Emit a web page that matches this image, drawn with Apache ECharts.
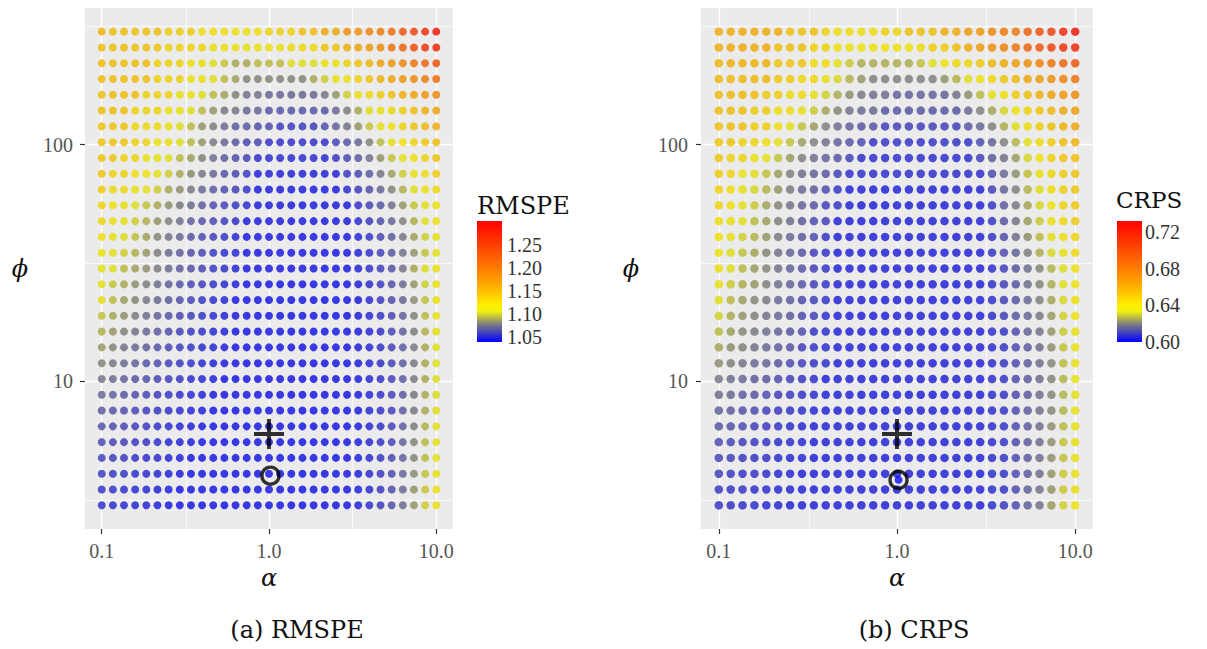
<!DOCTYPE html>
<html>
<head>
<meta charset="utf-8">
<title>RMSPE / CRPS grid</title>
<script src="https://cdn.jsdelivr.net/npm/echarts@6/dist/echarts.min.js"></script>
<style>
  html, body { margin: 0; padding: 0; background: #fff; }
  #chart { width: 1207px; height: 649px; }
</style>
</head>
<body>
<div id="chart"></div>
<script>
// tuning grid, 31 x 31, log spaced
const alpha = [0.1, 0.1166, 0.1359, 0.1585, 0.1848, 0.2154, 0.2512, 0.2929, 0.3415, 0.3981, 0.4642, 0.5412, 0.631, 0.7356, 0.8577, 1,
  1.166, 1.359, 1.585, 1.848, 2.154, 2.512, 2.929, 3.415, 3.981, 4.642, 5.412, 6.31, 7.356, 8.577, 10];
// rows from top (phi = 300) to bottom (phi = 3)
const phi = [300, 257.3, 220.7, 189.3, 162.4, 139.3, 119.4, 102.4, 87.86, 75.36, 64.63, 55.44, 47.55, 40.78, 34.98, 30,
  25.73, 22.07, 18.93, 16.24, 13.93, 11.94, 10.24, 8.786, 7.536, 6.463, 5.544, 4.755, 4.078, 3.498, 3];

// one row per phi value, one entry per alpha value
const rmspe = [
  [1.15,1.145,1.145,1.145,1.145,1.145,1.135,1.135,1.135,1.12,1.12,1.12,1.12,1.12,1.12,1.13,1.13,1.13,1.145,1.145,1.16,1.16,1.18,1.18,1.19,1.2,1.215,1.235,1.25,1.27,1.29],
  [1.145,1.145,1.145,1.145,1.145,1.14,1.13,1.13,1.13,1.13,1.115,1.115,1.115,1.115,1.115,1.115,1.115,1.125,1.125,1.125,1.14,1.14,1.155,1.165,1.17,1.185,1.205,1.225,1.245,1.265,1.28],
  [1.145,1.145,1.145,1.145,1.145,1.13,1.13,1.13,1.115,1.115,1.105,1.098,1.09,1.09,1.095,1.095,1.095,1.105,1.105,1.105,1.115,1.115,1.13,1.14,1.15,1.165,1.175,1.19,1.205,1.22,1.24],
  [1.145,1.145,1.145,1.145,1.145,1.13,1.13,1.13,1.115,1.115,1.105,1.095,1.088,1.08,1.08,1.08,1.08,1.08,1.08,1.09,1.1,1.115,1.115,1.13,1.14,1.155,1.165,1.175,1.19,1.2,1.215],
  [1.145,1.145,1.145,1.145,1.13,1.13,1.13,1.115,1.115,1.105,1.095,1.088,1.08,1.074,1.074,1.07,1.07,1.07,1.07,1.07,1.076,1.085,1.1,1.115,1.125,1.135,1.145,1.155,1.165,1.175,1.19],
  [1.145,1.145,1.145,1.13,1.13,1.13,1.115,1.115,1.105,1.095,1.085,1.076,1.076,1.07,1.07,1.064,1.064,1.064,1.064,1.064,1.064,1.07,1.078,1.09,1.105,1.115,1.125,1.135,1.145,1.155,1.165],
  [1.14,1.14,1.14,1.125,1.125,1.125,1.115,1.105,1.095,1.085,1.078,1.072,1.066,1.066,1.062,1.062,1.056,1.056,1.056,1.056,1.062,1.068,1.075,1.085,1.098,1.11,1.12,1.13,1.14,1.15,1.155],
  [1.14,1.14,1.14,1.13,1.13,1.115,1.115,1.105,1.095,1.085,1.077,1.07,1.065,1.06,1.06,1.052,1.052,1.052,1.052,1.052,1.052,1.058,1.064,1.07,1.08,1.095,1.108,1.118,1.128,1.138,1.145],
  [1.14,1.14,1.13,1.13,1.115,1.115,1.105,1.095,1.087,1.08,1.073,1.067,1.062,1.058,1.05,1.05,1.05,1.05,1.05,1.05,1.05,1.054,1.06,1.066,1.074,1.085,1.098,1.11,1.12,1.13,1.14],
  [1.14,1.13,1.13,1.118,1.118,1.108,1.1,1.09,1.082,1.076,1.07,1.064,1.06,1.055,1.047,1.047,1.047,1.047,1.047,1.047,1.047,1.047,1.055,1.06,1.066,1.075,1.087,1.1,1.112,1.122,1.132],
  [1.135,1.125,1.125,1.115,1.108,1.1,1.09,1.083,1.077,1.071,1.066,1.061,1.057,1.052,1.045,1.045,1.045,1.045,1.045,1.045,1.045,1.045,1.05,1.056,1.062,1.07,1.08,1.092,1.105,1.115,1.125],
  [1.13,1.12,1.115,1.105,1.097,1.09,1.083,1.077,1.072,1.067,1.062,1.058,1.054,1.05,1.045,1.045,1.045,1.045,1.045,1.045,1.045,1.045,1.045,1.052,1.058,1.065,1.073,1.085,1.098,1.11,1.12],
  [1.125,1.115,1.108,1.1,1.092,1.085,1.079,1.073,1.068,1.064,1.06,1.055,1.051,1.045,1.045,1.045,1.045,1.045,1.045,1.045,1.045,1.045,1.045,1.05,1.055,1.062,1.07,1.08,1.092,1.105,1.115],
  [1.12,1.112,1.104,1.096,1.088,1.081,1.075,1.07,1.065,1.061,1.057,1.053,1.049,1.044,1.044,1.044,1.044,1.044,1.044,1.044,1.044,1.044,1.044,1.048,1.053,1.06,1.067,1.076,1.088,1.1,1.112],
  [1.117,1.108,1.1,1.092,1.085,1.078,1.072,1.067,1.063,1.059,1.055,1.051,1.048,1.044,1.044,1.044,1.044,1.044,1.044,1.044,1.044,1.044,1.044,1.047,1.052,1.058,1.065,1.074,1.085,1.097,1.11],
  [1.112,1.105,1.095,1.088,1.083,1.077,1.072,1.067,1.063,1.059,1.055,1.052,1.048,1.044,1.044,1.044,1.044,1.044,1.044,1.044,1.044,1.044,1.044,1.047,1.052,1.057,1.064,1.075,1.09,1.105,1.115],
  [1.108,1.098,1.09,1.083,1.078,1.073,1.068,1.064,1.06,1.056,1.052,1.049,1.046,1.043,1.043,1.043,1.043,1.043,1.043,1.043,1.043,1.043,1.043,1.046,1.05,1.056,1.063,1.072,1.085,1.1,1.115],
  [1.105,1.095,1.087,1.081,1.076,1.071,1.066,1.062,1.058,1.054,1.051,1.048,1.045,1.043,1.043,1.043,1.043,1.043,1.043,1.043,1.043,1.043,1.043,1.045,1.049,1.055,1.062,1.07,1.082,1.097,1.113],
  [1.097,1.09,1.083,1.078,1.073,1.068,1.064,1.06,1.056,1.053,1.05,1.047,1.045,1.043,1.043,1.043,1.043,1.043,1.043,1.043,1.043,1.043,1.043,1.045,1.048,1.053,1.06,1.068,1.08,1.095,1.11],
  [1.092,1.085,1.079,1.074,1.07,1.066,1.062,1.058,1.055,1.052,1.049,1.046,1.043,1.043,1.043,1.043,1.043,1.043,1.043,1.043,1.043,1.043,1.043,1.045,1.048,1.052,1.059,1.067,1.078,1.092,1.108],
  [1.086,1.08,1.075,1.071,1.067,1.063,1.06,1.056,1.053,1.05,1.048,1.046,1.043,1.043,1.043,1.043,1.043,1.043,1.043,1.043,1.043,1.043,1.043,1.045,1.048,1.052,1.058,1.066,1.077,1.09,1.105],
  [1.08,1.076,1.072,1.068,1.064,1.061,1.058,1.055,1.052,1.049,1.047,1.045,1.043,1.043,1.043,1.043,1.043,1.043,1.043,1.043,1.043,1.043,1.043,1.045,1.048,1.052,1.058,1.066,1.077,1.09,1.105],
  [1.076,1.072,1.068,1.065,1.062,1.059,1.056,1.053,1.05,1.048,1.046,1.043,1.043,1.043,1.043,1.043,1.043,1.043,1.043,1.043,1.043,1.043,1.043,1.045,1.048,1.052,1.058,1.066,1.077,1.09,1.104],
  [1.071,1.068,1.065,1.062,1.059,1.056,1.054,1.051,1.049,1.047,1.045,1.043,1.043,1.043,1.043,1.043,1.043,1.043,1.043,1.043,1.043,1.043,1.043,1.045,1.048,1.052,1.058,1.066,1.076,1.09,1.104],
  [1.067,1.064,1.061,1.059,1.056,1.054,1.052,1.05,1.048,1.046,1.043,1.043,1.043,1.043,1.043,1.043,1.043,1.043,1.043,1.043,1.043,1.043,1.043,1.045,1.048,1.052,1.058,1.066,1.076,1.09,1.105],
  [1.064,1.061,1.059,1.057,1.054,1.052,1.05,1.048,1.046,1.045,1.043,1.043,1.043,1.043,1.043,1.043,1.043,1.043,1.043,1.043,1.043,1.043,1.043,1.045,1.048,1.052,1.058,1.067,1.078,1.092,1.107],
  [1.061,1.059,1.057,1.055,1.053,1.051,1.049,1.047,1.046,1.043,1.043,1.043,1.043,1.043,1.043,1.043,1.043,1.043,1.043,1.043,1.043,1.043,1.043,1.046,1.049,1.053,1.059,1.068,1.08,1.094,1.108],
  [1.058,1.056,1.055,1.053,1.051,1.05,1.048,1.046,1.043,1.043,1.043,1.043,1.043,1.043,1.043,1.043,1.043,1.043,1.043,1.043,1.043,1.043,1.043,1.046,1.05,1.054,1.06,1.069,1.081,1.095,1.11],
  [1.056,1.054,1.053,1.051,1.05,1.048,1.047,1.045,1.043,1.043,1.043,1.043,1.043,1.043,1.043,1.043,1.043,1.043,1.043,1.043,1.043,1.043,1.043,1.046,1.05,1.055,1.061,1.07,1.082,1.097,1.112],
  [1.054,1.053,1.051,1.05,1.049,1.047,1.046,1.043,1.043,1.043,1.043,1.043,1.043,1.043,1.043,1.043,1.043,1.043,1.043,1.043,1.043,1.043,1.043,1.046,1.05,1.055,1.062,1.071,1.084,1.098,1.113],
  [1.052,1.051,1.05,1.049,1.048,1.046,1.045,1.043,1.043,1.043,1.043,1.043,1.043,1.043,1.043,1.043,1.043,1.043,1.043,1.043,1.043,1.043,1.043,1.046,1.051,1.056,1.063,1.072,1.085,1.1,1.115]
];

const crps = [
  [0.659,0.659,0.659,0.659,0.659,0.659,0.652,0.652,0.652,0.645,0.641,0.641,0.641,0.641,0.645,0.645,0.652,0.652,0.652,0.659,0.659,0.667,0.667,0.674,0.682,0.682,0.692,0.7,0.707,0.717,0.727],
  [0.659,0.659,0.659,0.659,0.659,0.652,0.652,0.652,0.645,0.645,0.639,0.639,0.639,0.639,0.639,0.639,0.639,0.642,0.647,0.647,0.652,0.659,0.665,0.671,0.677,0.683,0.69,0.697,0.705,0.713,0.72],
  [0.657,0.657,0.657,0.657,0.657,0.65,0.65,0.65,0.642,0.642,0.635,0.63,0.626,0.626,0.626,0.626,0.626,0.629,0.634,0.639,0.643,0.643,0.649,0.655,0.66,0.665,0.671,0.677,0.684,0.691,0.699],
  [0.655,0.655,0.655,0.655,0.655,0.649,0.649,0.643,0.643,0.637,0.632,0.627,0.623,0.62,0.62,0.62,0.62,0.62,0.62,0.623,0.627,0.633,0.639,0.644,0.65,0.655,0.66,0.665,0.671,0.677,0.684],
  [0.654,0.654,0.654,0.654,0.648,0.648,0.642,0.642,0.636,0.631,0.626,0.622,0.619,0.617,0.617,0.615,0.615,0.615,0.615,0.615,0.618,0.622,0.628,0.635,0.641,0.647,0.652,0.657,0.662,0.667,0.673],
  [0.653,0.653,0.653,0.648,0.648,0.642,0.642,0.636,0.63,0.625,0.621,0.618,0.616,0.616,0.613,0.613,0.613,0.613,0.613,0.613,0.613,0.616,0.62,0.625,0.632,0.639,0.645,0.65,0.655,0.66,0.665],
  [0.652,0.652,0.652,0.647,0.647,0.641,0.635,0.629,0.624,0.62,0.617,0.615,0.613,0.613,0.609,0.609,0.609,0.609,0.609,0.609,0.609,0.613,0.616,0.62,0.626,0.634,0.641,0.647,0.652,0.657,0.662],
  [0.651,0.651,0.646,0.646,0.641,0.635,0.629,0.624,0.62,0.617,0.615,0.613,0.611,0.607,0.607,0.607,0.607,0.607,0.607,0.607,0.607,0.607,0.611,0.615,0.62,0.627,0.635,0.642,0.648,0.653,0.657],
  [0.65,0.645,0.645,0.64,0.635,0.629,0.624,0.62,0.617,0.615,0.613,0.609,0.606,0.606,0.606,0.606,0.606,0.606,0.606,0.606,0.606,0.606,0.609,0.614,0.618,0.624,0.632,0.639,0.645,0.65,0.654],
  [0.648,0.644,0.639,0.634,0.629,0.624,0.62,0.617,0.615,0.613,0.609,0.606,0.606,0.606,0.606,0.606,0.606,0.606,0.606,0.606,0.606,0.606,0.606,0.611,0.616,0.622,0.629,0.637,0.643,0.648,0.652],
  [0.646,0.642,0.637,0.632,0.627,0.623,0.619,0.616,0.614,0.611,0.607,0.604,0.604,0.604,0.604,0.604,0.604,0.604,0.604,0.604,0.604,0.604,0.604,0.609,0.615,0.62,0.627,0.634,0.641,0.647,0.651],
  [0.644,0.64,0.635,0.63,0.625,0.621,0.618,0.615,0.613,0.609,0.607,0.604,0.604,0.604,0.604,0.604,0.604,0.604,0.604,0.604,0.604,0.604,0.604,0.607,0.614,0.619,0.625,0.632,0.639,0.645,0.65],
  [0.642,0.638,0.633,0.628,0.624,0.62,0.617,0.614,0.611,0.609,0.604,0.604,0.604,0.604,0.604,0.604,0.604,0.604,0.604,0.604,0.604,0.604,0.604,0.607,0.613,0.618,0.624,0.63,0.637,0.643,0.648],
  [0.64,0.636,0.631,0.627,0.623,0.619,0.616,0.614,0.611,0.607,0.604,0.604,0.604,0.604,0.604,0.604,0.604,0.604,0.604,0.604,0.604,0.604,0.604,0.607,0.612,0.617,0.622,0.628,0.635,0.641,0.646],
  [0.639,0.634,0.629,0.625,0.621,0.618,0.615,0.613,0.609,0.607,0.604,0.604,0.604,0.604,0.604,0.604,0.604,0.604,0.604,0.604,0.604,0.604,0.604,0.607,0.611,0.615,0.62,0.626,0.632,0.638,0.643],
  [0.638,0.633,0.628,0.624,0.621,0.618,0.615,0.613,0.609,0.607,0.604,0.604,0.604,0.604,0.604,0.604,0.604,0.604,0.604,0.604,0.604,0.604,0.604,0.606,0.609,0.613,0.617,0.621,0.627,0.634,0.64],
  [0.636,0.63,0.626,0.623,0.62,0.617,0.615,0.613,0.609,0.607,0.604,0.604,0.604,0.604,0.604,0.604,0.604,0.604,0.604,0.604,0.604,0.604,0.604,0.606,0.609,0.613,0.617,0.621,0.626,0.633,0.64],
  [0.634,0.628,0.624,0.621,0.619,0.616,0.614,0.611,0.609,0.607,0.604,0.604,0.604,0.604,0.604,0.604,0.604,0.604,0.604,0.604,0.604,0.604,0.604,0.606,0.609,0.613,0.616,0.62,0.625,0.632,0.64],
  [0.631,0.626,0.623,0.62,0.618,0.616,0.614,0.611,0.609,0.606,0.604,0.604,0.604,0.604,0.604,0.604,0.604,0.604,0.604,0.604,0.604,0.604,0.604,0.606,0.609,0.613,0.616,0.619,0.624,0.631,0.639],
  [0.628,0.624,0.621,0.619,0.617,0.615,0.613,0.611,0.607,0.606,0.604,0.604,0.604,0.604,0.604,0.604,0.604,0.604,0.604,0.604,0.604,0.604,0.604,0.606,0.607,0.611,0.615,0.618,0.623,0.63,0.638],
  [0.625,0.622,0.62,0.618,0.616,0.614,0.613,0.609,0.607,0.606,0.604,0.604,0.604,0.604,0.604,0.604,0.604,0.604,0.604,0.604,0.604,0.604,0.604,0.606,0.607,0.611,0.614,0.617,0.622,0.629,0.637],
  [0.622,0.62,0.618,0.616,0.615,0.613,0.611,0.609,0.607,0.606,0.604,0.604,0.604,0.604,0.604,0.604,0.604,0.604,0.604,0.604,0.604,0.604,0.604,0.606,0.607,0.611,0.614,0.617,0.621,0.628,0.637],
  [0.619,0.617,0.616,0.614,0.613,0.611,0.609,0.607,0.606,0.604,0.604,0.604,0.604,0.604,0.604,0.604,0.604,0.604,0.604,0.604,0.604,0.604,0.604,0.606,0.607,0.611,0.614,0.617,0.621,0.627,0.636],
  [0.617,0.616,0.614,0.613,0.611,0.609,0.608,0.607,0.606,0.604,0.604,0.604,0.604,0.604,0.604,0.604,0.604,0.604,0.604,0.604,0.604,0.604,0.604,0.606,0.607,0.611,0.614,0.617,0.621,0.627,0.636],
  [0.615,0.614,0.612,0.611,0.609,0.608,0.607,0.606,0.605,0.604,0.604,0.604,0.604,0.604,0.604,0.604,0.604,0.604,0.604,0.604,0.604,0.604,0.604,0.606,0.607,0.611,0.614,0.617,0.621,0.627,0.635],
  [0.613,0.612,0.611,0.609,0.608,0.607,0.606,0.605,0.604,0.604,0.604,0.604,0.604,0.604,0.604,0.604,0.604,0.604,0.604,0.604,0.604,0.604,0.604,0.606,0.607,0.611,0.614,0.617,0.622,0.628,0.636],
  [0.611,0.61,0.609,0.608,0.607,0.606,0.606,0.605,0.604,0.604,0.604,0.604,0.604,0.604,0.604,0.604,0.604,0.604,0.604,0.604,0.604,0.604,0.604,0.606,0.607,0.611,0.614,0.617,0.622,0.629,0.637],
  [0.61,0.609,0.608,0.607,0.607,0.606,0.605,0.605,0.604,0.604,0.604,0.604,0.604,0.604,0.604,0.604,0.604,0.604,0.604,0.604,0.604,0.604,0.604,0.606,0.607,0.611,0.614,0.617,0.622,0.629,0.637],
  [0.609,0.608,0.607,0.607,0.606,0.605,0.605,0.604,0.604,0.604,0.604,0.604,0.604,0.604,0.604,0.604,0.604,0.604,0.604,0.604,0.604,0.604,0.604,0.606,0.607,0.611,0.614,0.617,0.623,0.63,0.638],
  [0.608,0.607,0.607,0.606,0.606,0.605,0.605,0.604,0.604,0.604,0.604,0.604,0.604,0.604,0.604,0.604,0.604,0.604,0.604,0.604,0.604,0.604,0.604,0.606,0.607,0.611,0.615,0.618,0.623,0.63,0.638],
  [0.607,0.607,0.606,0.606,0.605,0.605,0.604,0.604,0.604,0.604,0.604,0.604,0.604,0.604,0.604,0.604,0.604,0.604,0.604,0.604,0.604,0.604,0.604,0.606,0.608,0.611,0.615,0.618,0.624,0.631,0.639]
];

const alphaTicks = [0.1, 1, 10];
const phiTicks = [10, 100];
const minorAlpha = [0.3162, 3.162];
const minorPhi = [3.162, 31.62, 316.2];
const rmspeTicks = [1.05, 1.10, 1.15, 1.20, 1.25];
const crpsTicks = [0.60, 0.64, 0.68, 0.72];
const rmspeRange = [1.039, 1.303];
const crpsRange = [0.600, 0.732];

// marked points: + and o
const plusA = [1, 6];
const ringA = [1.02, 4];
const plusB = [1, 6];
const ringB = [1.02, 3.84];

// blue -> grey -> yellow -> orange -> red (colour bar)
const barPalette = ['#0000ff', '#2b2bd5', '#5555aa', '#808080', '#b7b748', '#eeee11', '#fff100', '#ffdc00', '#ffc800', '#ffb300',
  '#ffa000', '#ff9000', '#ff8000', '#ff7000', '#ff6000', '#ff5000', '#ff4000', '#ff3000', '#ff2000', '#ff1000', '#ff0000'];
// same ramp, a little deeper, for the dots
const dotPalette = ['#0000ed', '#2828c6', '#4f4f9e', '#777777', '#aaaa43', '#dddd10', '#ede000', '#edcd00', '#edba00', '#eda600',
  '#ed9500', '#ed8600', '#ed7700', '#ed6800', '#ed5900', '#ed4a00', '#ed3c00', '#ed2d00', '#ed1e00', '#ed0f00', '#ed0000'];

const numFont = 'Liberation Serif';
const wordFont = 'DejaVu Serif';

const chart = echarts.init(document.getElementById('chart'), null, { renderer: 'svg' });

const toPoints = (grid) => {
  const pts = [];
  grid.forEach((row, r) => row.forEach((v, c) => pts.push([alpha[c], phi[r], v])));
  return pts;
};

const barFill = new echarts.graphic.LinearGradient(0, 1, 0, 0,
  barPalette.map((c, i) => ({ offset: i / (barPalette.length - 1), color: c })));

const tickStyle = { color: '#333', width: 1.2 };
const labelStyle = { fontFamily: numFont, fontSize: 20, color: '#555' };
const greek = { fontFamily: wordFont, fontStyle: 'italic', fontSize: 24, color: '#111' };

const mainX = (gridIndex) => ({
  type: 'log', logBase: 10, gridIndex, min: 0.07943, max: 12.589,
  name: 'α', nameLocation: 'middle', nameGap: 36, nameTextStyle: greek,
  axisLine: { show: false },
  axisTick: { show: true, customValues: alphaTicks, length: 5, lineStyle: tickStyle },
  axisLabel: Object.assign({ customValues: alphaTicks, margin: 12, formatter: (v) => Number(v).toFixed(1) }, labelStyle),
  splitLine: { show: true, lineStyle: { color: '#fff', width: 1.3 } }
});

const mainY = (gridIndex, gap, margin) => ({
  type: 'log', logBase: 10, gridIndex, min: 2.382, max: 377.6,
  name: 'ϕ', nameLocation: 'middle', nameRotate: 0, nameGap: gap, nameTextStyle: greek,
  axisLine: { show: false },
  axisTick: { show: true, customValues: phiTicks, length: 5, lineStyle: tickStyle },
  axisLabel: Object.assign({ customValues: phiTicks, margin }, labelStyle),
  splitLine: { show: true, lineStyle: { color: '#fff', width: 1.3 } }
});

const barY = (gridIndex, range, ticks, margin) => ({
  type: 'value', gridIndex, min: range[0], max: range[1], position: 'right',
  axisLine: { show: false }, axisTick: { show: false }, splitLine: { show: false },
  axisLabel: { customValues: ticks, margin, formatter: (v) => Number(v).toFixed(2),
    fontFamily: numFont, fontSize: 20, color: '#333' }
});

const minorLines = (xi) => ({
  type: 'scatter', xAxisIndex: xi, yAxisIndex: xi, data: [], silent: true,
  markLine: {
    z: 1, silent: true, symbol: 'none', label: { show: false }, animation: false,
    lineStyle: { color: '#fff', width: 0.7, type: 'solid' },
    data: minorAlpha.map((a) => ({ xAxis: a })).concat(minorPhi.map((p) => ({ yAxis: p })))
  }
});

// thick plus sign, drawn as a filled outline
const plusSymbol = 'path://M8.7,0h2.6v8.7h8.7v2.6h-8.7v8.7h-2.6v-8.7h-8.7v-2.6h8.7z';
const ringStyle = { color: 'rgba(0,0,0,0)', borderColor: '#000', borderWidth: 3.4 };
const titleFont = { fontFamily: wordFont, fontWeight: 'normal', color: '#111' };

const option = {
  backgroundColor: '#fff',
  animation: false,
  title: [
    { text: 'RMSPE', left: 477, top: 194, padding: 0, textStyle: Object.assign({ fontSize: 24 }, titleFont) },
    { text: 'CRPS', left: 1116, top: 188, padding: 0, textStyle: Object.assign({ fontSize: 23 }, titleFont) },
    { text: '(a) RMSPE', left: 297, top: 630, padding: 0, textAlign: 'center', textVerticalAlign: 'middle',
      textStyle: Object.assign({ fontSize: 24 }, titleFont) },
    { text: '(b) CRPS', left: 914, top: 630, padding: 0, textAlign: 'center', textVerticalAlign: 'middle',
      textStyle: Object.assign({ fontSize: 24 }, titleFont) }
  ],
  grid: [
    { left: 85, top: 8, width: 368, height: 521, show: true, backgroundColor: '#ebebeb', borderWidth: 0 },
    { left: 701, top: 8, width: 392, height: 521, show: true, backgroundColor: '#ebebeb', borderWidth: 0 },
    { left: 477, top: 221, width: 25, height: 121, show: true, backgroundColor: barFill, borderWidth: 0 },
    { left: 1117, top: 221, width: 25, height: 121, show: true, backgroundColor: barFill, borderWidth: 0 }
  ],
  xAxis: [
    mainX(0), mainX(1),
    { type: 'value', gridIndex: 2, show: false },
    { type: 'value', gridIndex: 3, show: false }
  ],
  yAxis: [
    mainY(0, 57, 12), mainY(1, 62, 13),
    barY(2, rmspeRange, rmspeTicks, 5),
    barY(3, crpsRange, crpsTicks, 3)
  ],
  visualMap: [
    { type: 'continuous', show: false, seriesIndex: 0, dimension: 2,
      min: rmspeRange[0], max: rmspeRange[1], inRange: { color: dotPalette } },
    { type: 'continuous', show: false, seriesIndex: 1, dimension: 2,
      min: crpsRange[0], max: crpsRange[1], inRange: { color: dotPalette } }
  ],
  series: [
    { type: 'scatter', xAxisIndex: 0, yAxisIndex: 0, symbolSize: 8, z: 2, data: toPoints(rmspe) },
    { type: 'scatter', xAxisIndex: 1, yAxisIndex: 1, symbolSize: 8.5, z: 2, data: toPoints(crps) },
    minorLines(0),
    minorLines(1),
    { type: 'scatter', xAxisIndex: 0, yAxisIndex: 0, z: 4, symbol: plusSymbol, symbolSize: 30,
      itemStyle: { color: '#000' }, data: [plusA] },
    { type: 'scatter', xAxisIndex: 0, yAxisIndex: 0, z: 4, symbol: 'circle', symbolSize: 17,
      itemStyle: ringStyle, data: [ringA] },
    { type: 'scatter', xAxisIndex: 1, yAxisIndex: 1, z: 4, symbol: plusSymbol, symbolSize: 30,
      itemStyle: { color: '#000' }, data: [plusB] },
    { type: 'scatter', xAxisIndex: 1, yAxisIndex: 1, z: 4, symbolSize: 8,
      itemStyle: { color: '#0a0af2' }, data: [ringB] },
    { type: 'scatter', xAxisIndex: 1, yAxisIndex: 1, z: 4, symbol: 'circle', symbolSize: 17,
      itemStyle: ringStyle, data: [ringB] }
  ]
};

chart.setOption(option);
</script>
</body>
</html>
